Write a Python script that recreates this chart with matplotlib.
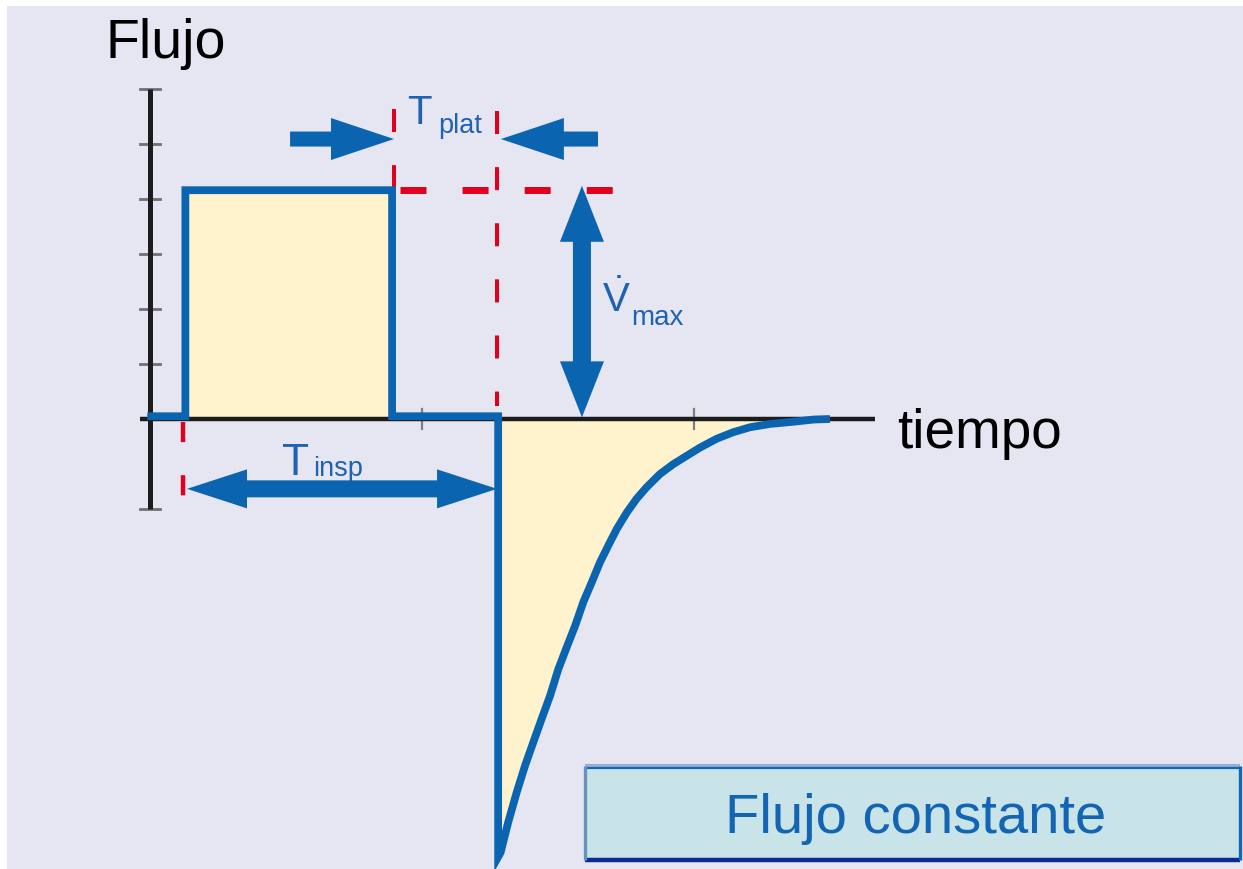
import matplotlib
matplotlib.use("Agg")
import numpy as np
import matplotlib.pyplot as plt
from matplotlib.patches import Rectangle, Polygon
from matplotlib.transforms import IdentityTransform

plt.rcParams['lines.scale_dashes'] = False
plt.rcParams['mathtext.fontset'] = 'custom'
plt.rcParams['mathtext.rm'] = 'Liberation Sans'
FONT = ['Liberation Sans', 'DejaVu Sans']

# ---------------- data (time in s, flow in arbitrary units) ----------------
wave_t = [-0.01, 0.13, 0.13, 0.89, 0.89, 1.28, 1.28]
wave_f = [0.05, 0.05, 4.16, 4.16, 0.05, 0.05, -7.96]
exp_t = [1.28, 1.289, 1.317, 1.348, 1.379, 1.409, 1.440, 1.471, 1.501, 1.532,
         1.563, 1.593, 1.624, 1.654, 1.685, 1.716, 1.753, 1.789, 1.826, 1.875,
         1.924, 1.973, 2.022, 2.083, 2.144, 2.206, 2.279, 2.365, 2.439, 2.500]
exp_f = [-7.96, -7.88, -7.33, -6.79, -6.30, -5.88, -5.45, -5.03, -4.55, -4.15,
         -3.76, -3.33, -2.97, -2.61, -2.30, -2.00, -1.70, -1.45, -1.24, -1.00,
         -0.82, -0.67, -0.52, -0.36, -0.24, -0.15, -0.09, -0.05, -0.01, 0.0]
t_insp_start = 0.13
t_insp_end = 0.89
t_plat_end = 1.28
flow_max = 4.16
yticks = [1, 2, 3, 4, 5, 6]
xticks = [1, 2]
y_axis_min = -1.64
x_axis_max = 2.665
title_y = "Flujo"
title_x = "tiempo"
box_label = "Flujo constante"

# ---------------- styles ----------------
BG = '#e6e6f2'
BLUE = '#0a64b0'
YELLOW = '#fff3cd'
RED = '#e0001e'
TXTBLUE = '#1f62b2'

W, H = 1243, 870
fig = plt.figure(figsize=(W / 100, H / 100), dpi=100)
fig.patch.set_facecolor('white')
fig.add_artist(Rectangle((7 / W, 0), 1 - 7 / W, 863 / H, transform=fig.transFigure,
                         facecolor=BG, edgecolor='none', zorder=0))
ax = fig.add_axes([0, 0, 1, 1])
ax.set_facecolor('none')
ax.set_xlim(-0.5515, 4.0184)
ax.set_ylim(-8.1818, 7.6364)
ax.axis('off')

# fills
ax.fill_between([t_insp_start, t_insp_end], [0, 0], [flow_max, flow_max],
                color=YELLOW, lw=0, zorder=1)
ax.fill_between(exp_t, exp_f, 0, color=YELLOW, lw=0, zorder=1)

# axes lines and ticks
ax.plot([-0.037, x_axis_max], [0, 0], color='#1c1c1c', lw=3.2, zorder=3,
        solid_capstyle='butt')
ax.plot([0, 0], [y_axis_min, yticks[-1]], color='#1c1c1c', lw=3.6, zorder=3,
        solid_capstyle='butt')
for y in yticks + [y_axis_min]:
    ax.plot([-0.037, 0.037], [y, y], color='#707070', lw=2.0, zorder=2)
for x in xticks:
    ax.plot([x, x], [-0.18, 0.18], color='#808080', lw=1.6, zorder=2)

# waveform
ax.plot(wave_t + exp_t[1:], wave_f + exp_f[1:], color=BLUE, lw=5.6, zorder=4,
        solid_joinstyle='miter', solid_capstyle='butt')

# red dashed guides
ax.plot([t_insp_end + 0.007, t_insp_end + 0.007], [5.64, flow_max + 0.05], color=RED,
        lw=2.9, dashes=(16.6, 23.8), zorder=2)
ax.plot([t_plat_end - 0.004, t_plat_end - 0.004], [5.6, 0.24], color=RED,
        lw=2.9, dashes=(16.6, 23.8), zorder=2)
ax.plot([t_insp_start - 0.009, t_insp_start - 0.009], [-0.05, -1.42], color=RED,
        lw=3.2, dashes=(14.5, 23.8), zorder=2)
ax.plot([0.919, 1.702], [flow_max + 0.01, flow_max + 0.01], color=RED,
        lw=5.0, dashes=(18.7, 26.0), zorder=2)


def arrow(p_tail, p_tip, shaft, hw, hl, double=False):
    """Block arrow polygon; widths/lengths in pixels, ends in data coords."""
    a = ax.transData.transform(p_tail)
    b = ax.transData.transform(p_tip)
    d = (b - a) / np.hypot(*(b - a))
    n = np.array([-d[1], d[0]])
    s, h = shaft / 2, hw / 2
    pts = [b, b - d * hl + n * h, b - d * hl + n * s]
    if double:
        pts += [a + d * hl + n * s, a + d * hl + n * h, a,
                a + d * hl - n * h, a + d * hl - n * s]
    else:
        pts += [a + n * s, a - n * s]
    pts += [b - d * hl - n * s, b - d * hl - n * h]
    ax.add_patch(Polygon(pts, closed=True, transform=IdentityTransform(),
                         facecolor=BLUE, edgecolor='none', zorder=5))


# T_plat arrows
arrow((0.515, 5.09), (0.897, 5.09), 15, 42, 63)
arrow((1.647, 5.09), (1.290, 5.09), 15, 42, 63)
# V max double arrow
arrow((1.588, 0.03), (1.588, 4.24), 18, 44, 56, double=True)
# T_insp double arrow
arrow((0.136, -1.27), (1.276, -1.27), 17, 39, 60, double=True)

# texts
ax.text(-0.162, 6.58, title_y, fontsize=40, family=FONT, color='black',
        ha='left', va='baseline')
ax.text(2.746, -0.51, title_x, fontsize=39.5, family=FONT, color='black',
        ha='left', va='baseline')
ax.text(0.945, 5.38, "T", fontsize=29, family=FONT, color=TXTBLUE, ha='left', va='baseline')
ax.text(1.058, 5.22, "plat", fontsize=19.5, family=FONT, color=TXTBLUE, ha='left', va='baseline')
ax.text(0.485, -1.0, "T", fontsize=32, family=FONT, color=TXTBLUE, ha='left', va='baseline')
ax.text(0.598, -1.02, "insp", fontsize=19.5, family=FONT, color=TXTBLUE, ha='left', va='baseline')
ax.text(1.662, 1.96, r"$\dot{\mathrm{V}}$", fontsize=29, color=TXTBLUE, ha='left', va='baseline')
ax.text(1.768, 1.73, "max", fontsize=20, family=FONT, color=TXTBLUE, ha='left', va='baseline')

# label box
bx0, bx1, by0, by1 = 1.599, 4.007, -8.02, -6.31
ax.add_patch(Rectangle((bx0, by0), bx1 - bx0, by1 - by0, facecolor='#c8e4e8',
                       edgecolor='none', zorder=5))
ax.plot([bx0, bx1], [by1, by1], color='#98acd4', lw=3.0, zorder=6, solid_capstyle='butt')
ax.plot([bx0, bx1], [by1 - 0.03, by1 - 0.03], color='#1466b4', lw=1.6, zorder=6, solid_capstyle='butt')
ax.plot([bx0, bx1], [by0, by0], color='#0a2896', lw=3.2, zorder=6, solid_capstyle='butt')
ax.plot([bx0, bx0], [by0, by1], color='#6890c0', lw=2.4, zorder=6, solid_capstyle='butt')
ax.plot([bx1, bx1], [by0, by1], color='#1466b4', lw=2.4, zorder=6, solid_capstyle='butt')
ax.text(2.816, -7.51, box_label, fontsize=40.5, family=FONT, color='#1464b4',
        ha='center', va='baseline', zorder=7)

fig.savefig('out.png', dpi=100, facecolor=fig.get_facecolor())
